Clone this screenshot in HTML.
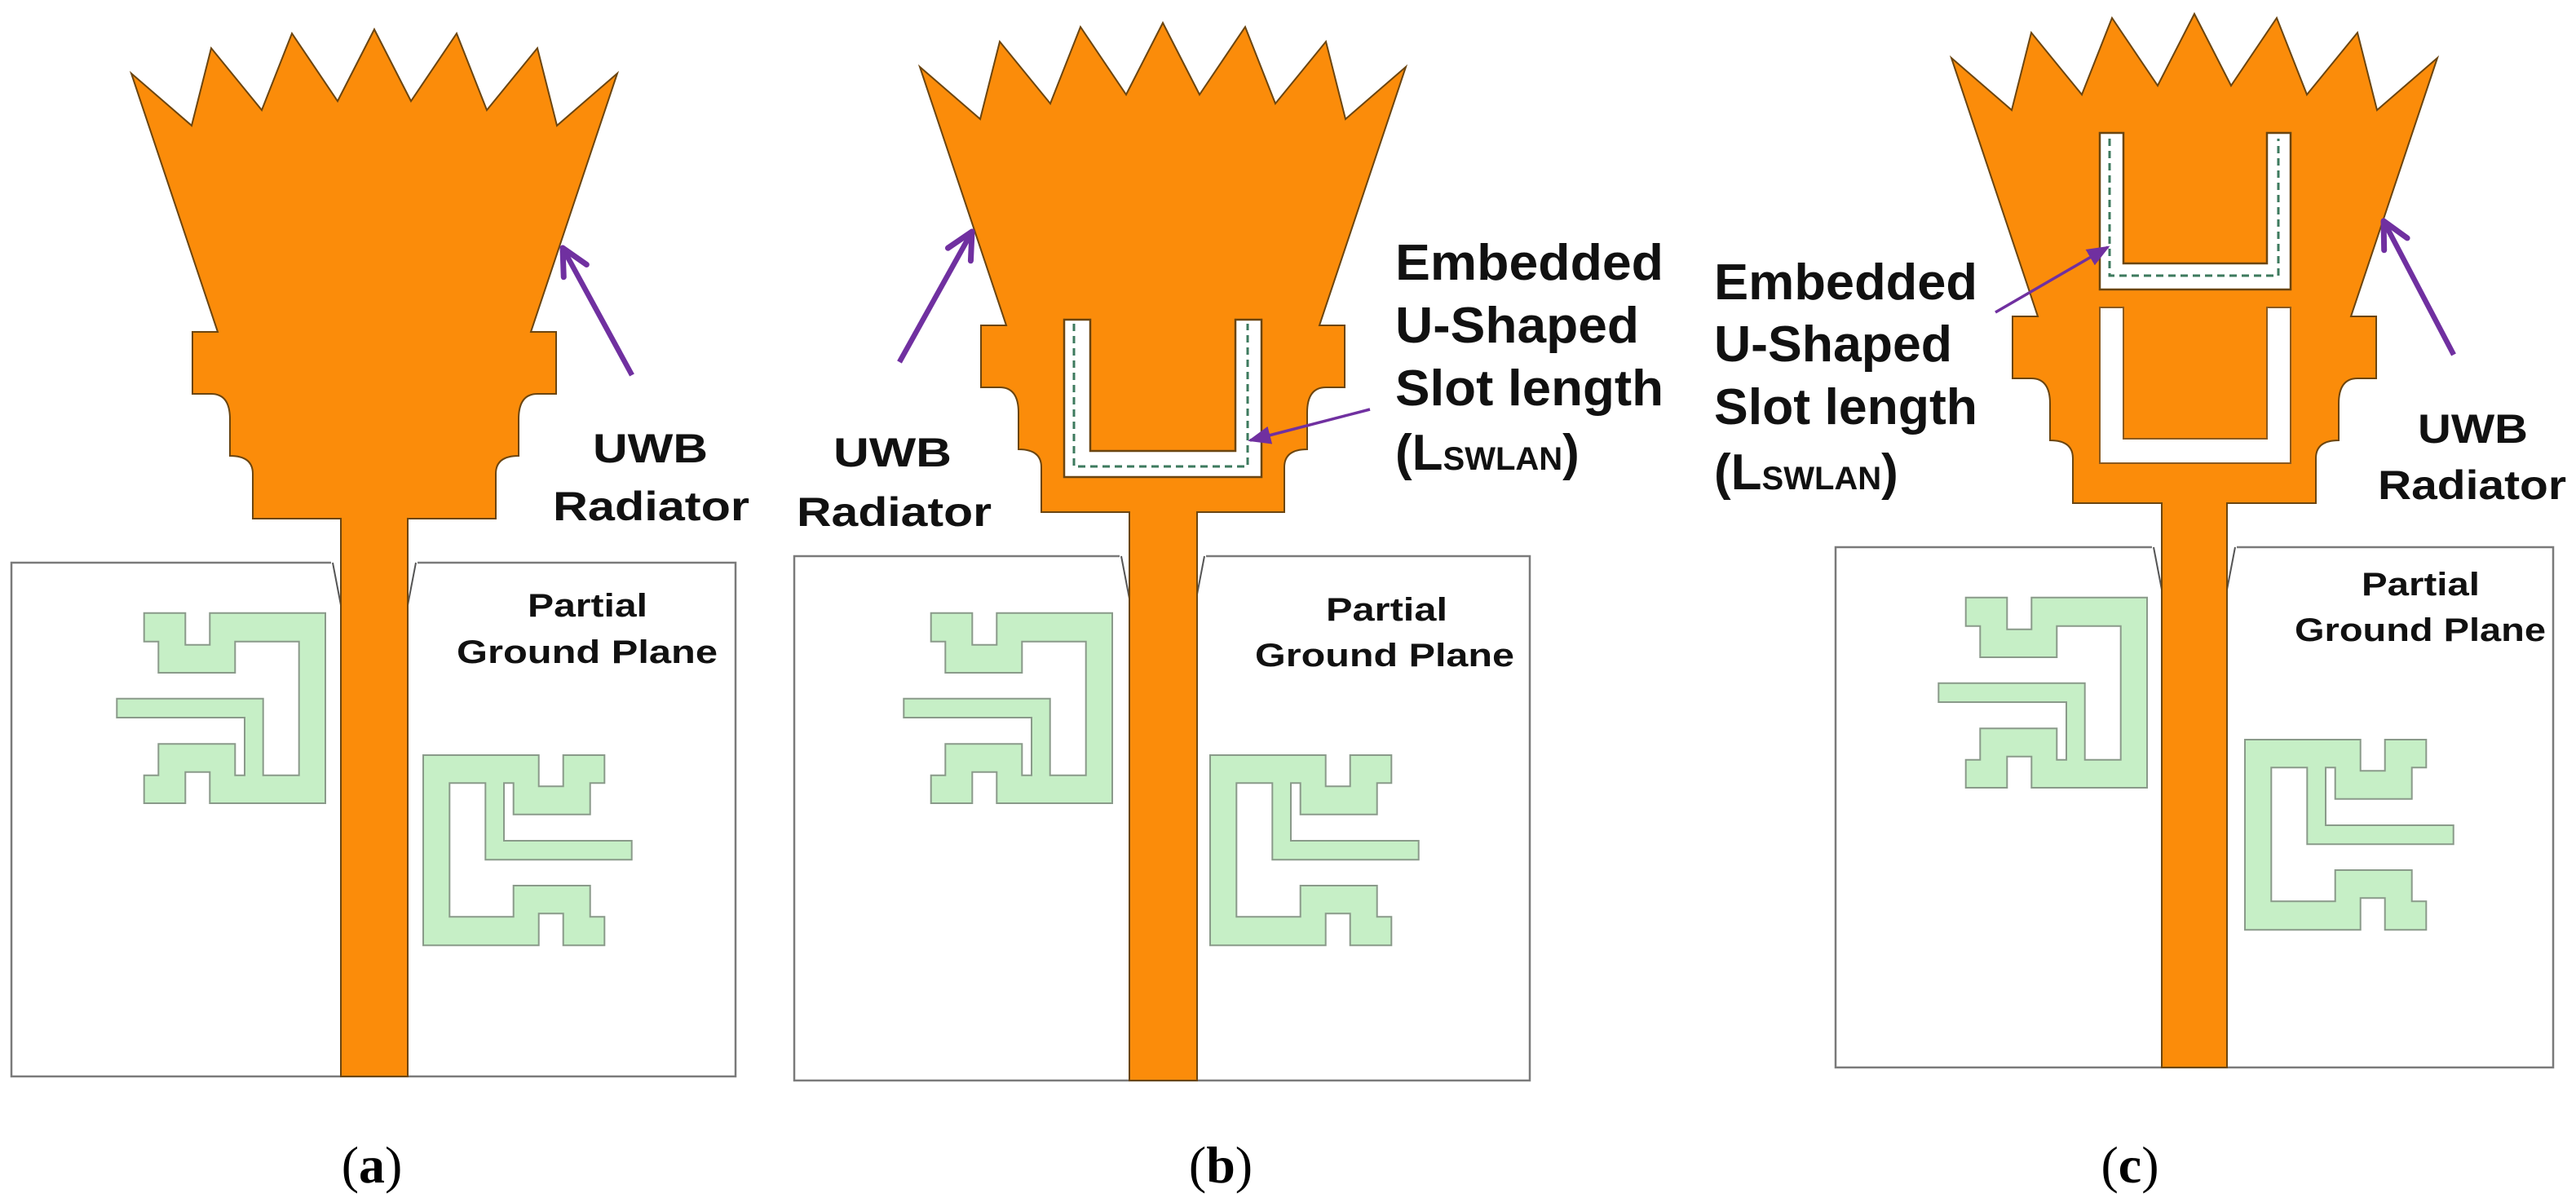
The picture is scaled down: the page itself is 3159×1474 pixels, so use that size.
<!DOCTYPE html>
<html><head><meta charset="utf-8"><style>
html,body{margin:0;padding:0;background:#fff;}
svg{display:block;}
.lbl{font-family:"Liberation Sans",sans-serif;font-weight:bold;fill:#111;}
.cap{font-family:"Liberation Serif",serif;fill:#000;}
</style></head><body>
<svg width="3159" height="1474" viewBox="0 0 3159 1474" xmlns="http://www.w3.org/2000/svg">
<defs>
<marker id="ov" viewBox="0 0 20 20" refX="18" refY="10" markerWidth="40" markerHeight="40" markerUnits="userSpaceOnUse" orient="auto">
<path d="M2,2 L18,10 L2,18" fill="none" stroke="#7030A0" stroke-width="3.5" stroke-linecap="round" stroke-linejoin="round"/>
</marker>
<marker id="fv" viewBox="0 0 20 20" refX="18" refY="10" markerWidth="28" markerHeight="28" markerUnits="userSpaceOnUse" orient="auto">
<path d="M0,2 L20,10 L0,18 Z" fill="#7030A0"/>
</marker>
<path id="rad" d="M-149,0 L-149,-55 Q-149,-77 -177,-77 L-177,-122 Q-177,-153 -200,-153 L-223,-153 L-223,-229 L-192,-229 L-298,-546 L-224,-482 L-200,-577 L-138,-501 L-101,-595 L-45,-512 L0,-600 L45,-512 L101,-595 L138,-501 L200,-577 L224,-482 L298,-546 L192,-229 L223,-229 L223,-153 L200,-153 Q177,-153 177,-122 L177,-77 Q149,-77 149,-55 L149,0 Z" fill="#FB8C0A" stroke="#6b4510" stroke-width="2"/>
<polygon id="res" points="176.7,751.7 227.3,751.7 227.3,790.7 257.3,790.7 257.3,751.7 399,751.7 399,985 257.3,985 257.3,946.7 227.3,946.7 227.3,985 176.7,985 176.7,950.7 194.3,950.7 194.3,912.3 288.3,912.3 288.3,950.7 300,950.7 300,880 143.3,880 143.3,856.7 322.7,856.7 322.7,950.7 366.7,950.7 366.7,786.7 288.3,786.7 288.3,825 194.3,825 194.3,786.7 176.7,786.7" fill="#C6EFC6" stroke="#8a9a8a" stroke-width="2"/>
<g id="respair">
<use href="#res"/>
<use href="#res" transform="translate(918,1911) rotate(180)"/>
</g>
</defs>

<!-- ===== Panel (a) ===== -->
<rect x="14" y="690" width="888" height="630" fill="#fff" stroke="#7a7a7a" stroke-width="2.5"/>
<rect x="406" y="686" width="106" height="6" fill="#fff"/>
<line x1="408" y1="690" x2="418" y2="742" stroke="#555" stroke-width="2"/>
<line x1="510" y1="690" x2="500" y2="742" stroke="#555" stroke-width="2"/>
<use href="#respair"/>
<rect x="418" y="630" width="82" height="690" fill="#FB8C0A" stroke="#6b4510" stroke-width="2"/>
<use href="#rad" transform="translate(459,636)"/>
<rect x="419" y="628" width="80" height="12" fill="#FB8C0A"/>
<line x1="775" y1="460" x2="690" y2="304" stroke="#7030A0" stroke-width="6.5" marker-end="url(#ov)"/>
<text class="lbl" x="727" y="567" font-size="50" textLength="141" lengthAdjust="spacingAndGlyphs">UWB</text>
<text class="lbl" x="678" y="638" font-size="50" textLength="241" lengthAdjust="spacingAndGlyphs">Radiator</text>
<text class="lbl" x="647" y="756" font-size="40" textLength="147" lengthAdjust="spacingAndGlyphs">Partial</text>
<text class="lbl" x="560" y="813" font-size="40" textLength="320" lengthAdjust="spacingAndGlyphs">Ground Plane</text>
<text class="cap" x="456" y="1450" font-size="64" text-anchor="middle">(<tspan font-weight="bold">a</tspan>)</text>

<!-- ===== Panel (b) ===== -->
<rect x="974" y="682" width="902" height="643" fill="#fff" stroke="#7a7a7a" stroke-width="2.5"/>
<rect x="1373" y="678" width="106" height="6" fill="#fff"/>
<line x1="1375" y1="682" x2="1385" y2="734" stroke="#555" stroke-width="2"/>
<line x1="1477" y1="682" x2="1467" y2="734" stroke="#555" stroke-width="2"/>
<use href="#respair" transform="translate(965,0)"/>
<rect x="1385" y="620" width="83" height="705" fill="#FB8C0A" stroke="#6b4510" stroke-width="2"/>
<use href="#rad" transform="translate(1426,628)"/>
<rect x="1386" y="620" width="81" height="12" fill="#FB8C0A"/>
<path d="M1305,392 H1337 V553 H1515 V392 H1547 V585 H1305 Z" fill="#fff" stroke="#6b4510" stroke-width="2.5"/>
<path d="M1317,397 V572 H1530 V397" fill="none" stroke="#3d7a5e" stroke-width="3" stroke-dasharray="9 6"/>
<line x1="1680" y1="502" x2="1533" y2="540" stroke="#7030A0" stroke-width="3.5" marker-end="url(#fv)"/>
<line x1="1103" y1="444" x2="1192" y2="284" stroke="#7030A0" stroke-width="6.5" marker-end="url(#ov)"/>
<text class="lbl" x="1022" y="572" font-size="50" textLength="145" lengthAdjust="spacingAndGlyphs">UWB</text>
<text class="lbl" x="977" y="645" font-size="50" textLength="239" lengthAdjust="spacingAndGlyphs">Radiator</text>
<text class="lbl" x="1626" y="761" font-size="40" textLength="149" lengthAdjust="spacingAndGlyphs">Partial</text>
<text class="lbl" x="1539" y="817" font-size="40" textLength="318" lengthAdjust="spacingAndGlyphs">Ground Plane</text>
<text class="lbl" x="1711" y="343" font-size="62" textLength="329" lengthAdjust="spacingAndGlyphs">Embedded</text>
<text class="lbl" x="1711" y="420" font-size="62" textLength="299" lengthAdjust="spacingAndGlyphs">U-Shaped</text>
<text class="lbl" x="1711" y="497" font-size="62" textLength="329" lengthAdjust="spacingAndGlyphs">Slot length</text>
<text class="lbl" x="1711" y="576" font-size="62">(L<tspan font-size="40">SWLAN</tspan>)</text>
<text class="cap" x="1497" y="1450" font-size="64" text-anchor="middle">(<tspan font-weight="bold">b</tspan>)</text>

<!-- ===== Panel (c) ===== -->
<rect x="2251" y="671" width="880" height="638" fill="#fff" stroke="#7a7a7a" stroke-width="2.5"/>
<rect x="2639" y="667" width="104" height="6" fill="#fff"/>
<line x1="2641" y1="671" x2="2651" y2="723" stroke="#555" stroke-width="2"/>
<line x1="2741" y1="671" x2="2731" y2="723" stroke="#555" stroke-width="2"/>
<use href="#respair" transform="translate(2234,-19)"/>
<rect x="2651" y="611" width="80" height="698" fill="#FB8C0A" stroke="#6b4510" stroke-width="2"/>
<use href="#rad" transform="translate(2691,617)"/>
<rect x="2652" y="609" width="78" height="12" fill="#FB8C0A"/>
<path d="M2575,163 H2604 V323 H2780 V163 H2809 V355 H2575 Z" fill="#fff" stroke="#6b4510" stroke-width="2.5"/>
<path d="M2587,170 V338 H2794 V170" fill="none" stroke="#3d7a5e" stroke-width="3" stroke-dasharray="9 6"/>
<path d="M2575,377 H2604 V538 H2780 V377 H2809 V568 H2575 Z" fill="#fff" stroke="#8a5a20" stroke-width="2"/>
<line x1="2447" y1="383" x2="2585" y2="303" stroke="#7030A0" stroke-width="3.5" marker-end="url(#fv)"/>
<line x1="3009" y1="435" x2="2923" y2="271" stroke="#7030A0" stroke-width="6.5" marker-end="url(#ov)"/>
<text class="lbl" x="2965" y="543" font-size="50" textLength="135" lengthAdjust="spacingAndGlyphs">UWB</text>
<text class="lbl" x="2916" y="612" font-size="50" textLength="231" lengthAdjust="spacingAndGlyphs">Radiator</text>
<text class="lbl" x="2896" y="730" font-size="40" textLength="145" lengthAdjust="spacingAndGlyphs">Partial</text>
<text class="lbl" x="2814" y="786" font-size="40" textLength="308" lengthAdjust="spacingAndGlyphs">Ground Plane</text>
<text class="lbl" x="2102" y="367" font-size="62" textLength="323" lengthAdjust="spacingAndGlyphs">Embedded</text>
<text class="lbl" x="2102" y="443" font-size="62" textLength="292" lengthAdjust="spacingAndGlyphs">U-Shaped</text>
<text class="lbl" x="2102" y="520" font-size="62" textLength="323" lengthAdjust="spacingAndGlyphs">Slot length</text>
<text class="lbl" x="2102" y="600" font-size="62">(L<tspan font-size="40">SWLAN</tspan>)</text>
<text class="cap" x="2612" y="1450" font-size="64" text-anchor="middle">(<tspan font-weight="bold">c</tspan>)</text>
</svg>
</body></html>
